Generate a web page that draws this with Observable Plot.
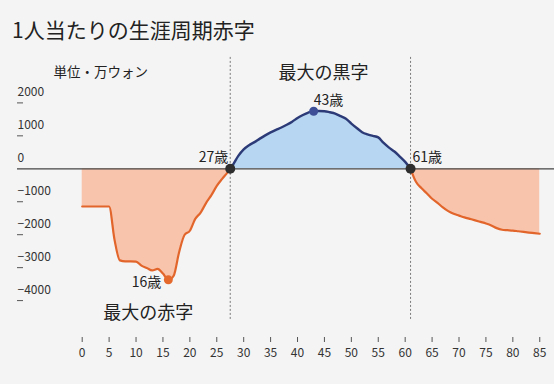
<!DOCTYPE html>
<html><head><meta charset="utf-8">
<script src="https://cdn.jsdelivr.net/npm/d3@7"></script>
<script src="https://cdn.jsdelivr.net/npm/@observablehq/plot@0.6"></script>
<style>
body{margin:0;background:#f4f4f4;font-family:"Noto Sans CJK JP",sans-serif;}
#title{height:50px;box-sizing:border-box;padding:14px 0 0 12px;font-size:21px;line-height:30px;color:#222;}
#chart svg{display:block;}
</style></head><body>
<div id="title">1人当たりの生涯周期赤字</div>
<div id="chart"></div>
<script>
// Data (万ウォン per capita, by age)
const youngAges = [0,1,2,3,4,5,6,7,8,9,10,11,12,13,14,15,16,17,18,19,20,21,22,23,24,25,26,27,27.5];
const youngValues = [-1144,-1144,-1144,-1144,-1144,-1144,-2150,-2780,-2810,-2810,-2815,-2940,-3010,-3085,-3040,-3180,-3370,-3240,-2530,-2010,-1880,-1520,-1330,-1040,-800,-520,-305,-107,0];
const surplusAges = [27.5,28,29,30,31,32,33,34,35,36,37,38,39,40,41,42,43,44,45,46,47,48,49,50,51,52,53,54,55,56,57,58,59,60,61];
const surplusValues = [0,119,392,591,718,810,916,1014,1105,1182,1252,1336,1430,1543,1633,1706,1748,1752,1748,1715,1673,1597,1517,1372,1238,1111,1044,1000,953,783,642,525,372,210,0];
const oldAges = [61,62,63,64,65,66,67,68,69,70,71,72,73,74,75,76,77,78,79,80,81,82,83,84,85];
const oldValues = [0,-394,-585,-741,-910,-1032,-1171,-1285,-1366,-1420,-1474,-1519,-1564,-1612,-1660,-1719,-1801,-1849,-1862,-1875,-1896,-1917,-1936,-1953,-1971];

const highlightAges = [16, 27.5, 43, 61];
const highlightValues = [-3370, 0, 1748, 0];
const highlightLabels = ["16歳", "27歳", "43歳", "61歳"];
const crossingAges = [27.5, 61];

const xTickValues = [0,5,10,15,20,25,30,35,40,45,50,55,60,65,70,75,80,85];
const yTickValues = [2000,1000,0,-1000,-2000,-3000,-4000];
const unitLabel = "単位・万ウォン";
const surplusTitle = "最大の黒字";
const deficitTitle = "最大の赤字";

// Build tables
const rows = (a, v) => a.map((age, i) => ({age, value: v[i]}));
const young = rows(youngAges, youngValues);
const surplus = rows(surplusAges, surplusValues);
const old = rows(oldAges, oldValues);
const highlights = highlightAges.map((age, i) => ({age, value: highlightValues[i], label: highlightLabels[i]}));

// Styles
const DEF_FILL = "#f9c4ac", DEF_LINE = "#e2652b";
const SUR_FILL = "#b6d6f1", SUR_LINE = "#2c3b78";
const curve = "monotone-x";
const dotColor = {"16歳": "#e4692d", "27歳": "#2e2e2e", "43歳": "#3e4f98", "61歳": "#2e2e2e"};
const dotR = {"16歳": 4.5, "27歳": 5, "43歳": 4.5, "61歳": 5};
const labelStyle = {
  "16歳": {dx: -7, dy: 3, textAnchor: "end"},
  "27歳": {dx: -2, dy: -11, textAnchor: "end"},
  "43歳": {dx: 0, dy: -11, textAnchor: "start"},
  "61歳": {dx: 2, dy: -11, textAnchor: "start"}
};
const ruleTop = 3380, ruleBottom = -4580;
const yFormat = d => (d < 0 ? "\u2212" : "") + Math.abs(d);

const chart = Plot.plot({
  width: 554, height: 334,
  marginLeft: 17, marginRight: 0, marginTop: 0, marginBottom: 47,
  style: {background: "transparent", fontFamily: "'Noto Sans CJK JP', sans-serif", color: "#222"},
  x: {domain: [-12.02, 87.74]},
  y: {domain: [-5120, 3590]},
  marks: [
    Plot.areaY(young, {x: "age", y: "value", fill: DEF_FILL, curve}),
    Plot.areaY(old, {x: "age", y: "value", fill: DEF_FILL, curve}),
    Plot.areaY(surplus, {x: "age", y: "value", fill: SUR_FILL, curve}),
    Plot.ruleX(crossingAges, {x: d => d, y1: ruleTop, y2: ruleBottom, stroke: "#7a7a7a", strokeDasharray: "2,2", strokeWidth: 1}),
    Plot.ruleY([0], {stroke: "#444", strokeWidth: 1.2}),
    Plot.line(young, {x: "age", y: "value", stroke: DEF_LINE, strokeWidth: 2.2, curve}),
    Plot.line(old, {x: "age", y: "value", stroke: DEF_LINE, strokeWidth: 2.2, curve}),
    Plot.line(surplus, {x: "age", y: "value", stroke: SUR_LINE, strokeWidth: 2.4, curve}),
    ...highlights.map(h => Plot.dot([h], {x: "age", y: "value", r: dotR[h.label], fill: dotColor[h.label], stroke: "none"})),
    ...highlights.map(h => Plot.text([h], {x: "age", y: "value", text: "label", fontSize: 14, fill: "#222", ...labelStyle[h.label]})),
    Plot.axisX(xTickValues, {tickSize: 5, tickPadding: 6, fontSize: 12, label: null, stroke: "#555", fill: "#333"}),
    Plot.axisY(yTickValues.filter(d => d !== 0), {tickSize: 6, dx: 6, tickFormat: () => "", label: null, stroke: "#555"}),
    Plot.axisY(yTickValues, {tickSize: 0, tickPadding: 0, dx: 0, dy: -10.5, textAnchor: "start", fontSize: 12, label: null, fill: "#333", tickFormat: yFormat}),
    Plot.text([unitLabel], {frameAnchor: "top-left", dx: 36, dy: 22, textAnchor: "start", lineAnchor: "middle", fontSize: 13.5, fill: "#222"}),
    Plot.text([surplusTitle], {x: () => (crossingAges[0] + crossingAges[1]) / 2, frameAnchor: "top", lineAnchor: "middle", dx: 3, dy: 23, fontSize: 18, fill: "#222"}),
    Plot.text([deficitTitle], {x: () => (youngAges[0] + crossingAges[0]) / 2, frameAnchor: "bottom", lineAnchor: "middle", dx: -8, dy: -24, fontSize: 18, fill: "#222"})
  ]
});
document.getElementById("chart").appendChild(chart);
</script>
</body></html>
